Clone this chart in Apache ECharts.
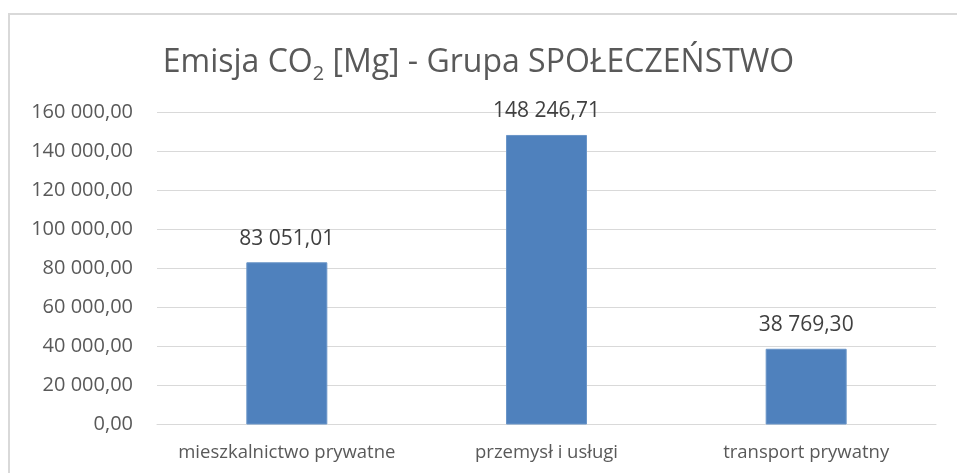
<!DOCTYPE html>
<html>
<head>
<meta charset="utf-8">
<script src="https://cdn.jsdelivr.net/npm/echarts@6/dist/echarts.min.js"></script>
<style>
html, body { margin: 0; padding: 0; background: #fff; }
#chart { width: 957px; height: 473px; }
#frame { position: absolute; left: 8px; top: 13px; width: 960px; height: 470px; border-left: 2px solid #d9d9d9; border-top: 2px solid #d9d9d9; }
</style>
</head>
<body>
<div id="frame"></div>
<div id="chart" style="position:absolute;left:0;top:0"></div>
<script>
var categories = ['mieszkalnictwo prywatne', 'przemysł i usługi', 'transport prywatny'];
var emissions = [83051.01, 148246.71, 38769.30];
var yTicks = [0, 20000, 40000, 60000, 80000, 100000, 120000, 140000, 160000];

// liczby w formacie polskim: 148 246,71
function fmt(v){
    var parts = v.toFixed(2).split('.');
    var intPart = parts[0].replace(/\B(?=(\d{3})+(?!\d))/g, ' ');
    return intPart + ',' + parts[1];
}

var font = 'Open Sans';
var myChart = echarts.init(document.getElementById('chart'));

var option = {
    animation: false,
    title: {
        text: '{t|Emisja CO}{s|2}{t| [Mg] - Grupa SPOŁECZEŃSTWO}',
        left: 'center',
        top: 37,
        textStyle: {
            rich: {
                t: { fontFamily: font, fontSize: 32, color: '#595959', fontWeight: 'normal' },
                s: { fontFamily: font, fontSize: 20, color: '#595959', fontWeight: 'normal', padding: [22, 0, 0, 0] }
            }
        }
    },
    grid: { left: 157, right: 21, top: 112, bottom: 48.5 },
    xAxis: {
        type: 'category',
        data: categories,
        axisLine: { lineStyle: { color: '#d9d9d9', width: 1 } },
        axisTick: { show: false },
        axisLabel: { interval: 0, fontFamily: font, fontSize: 18.5, color: '#595959', margin: 19 }
    },
    yAxis: {
        type: 'value',
        min: yTicks[0],
        max: yTicks[yTicks.length - 1],
        interval: yTicks[1] - yTicks[0],
        axisLine: { show: false },
        axisTick: { show: false },
        splitLine: { lineStyle: { color: '#d9d9d9', width: 1 } },
        axisLabel: {
            fontFamily: font, fontSize: 20, color: '#595959', margin: 24,
            formatter: function(v){ return fmt(v); }
        }
    },
    series: [{
        type: 'bar',
        data: emissions,
        barWidth: 81,
        itemStyle: { color: '#4f81bd', borderColor: '#6a95c8', borderWidth: 1 },
        label: {
            show: true,
            position: 'top',
            distance: 13,
            fontFamily: font,
            fontSize: 21,
            color: '#404040',
            formatter: function(p){ return fmt(p.value); }
        }
    }]
};

myChart.setOption(option);
</script>
</body>
</html>
